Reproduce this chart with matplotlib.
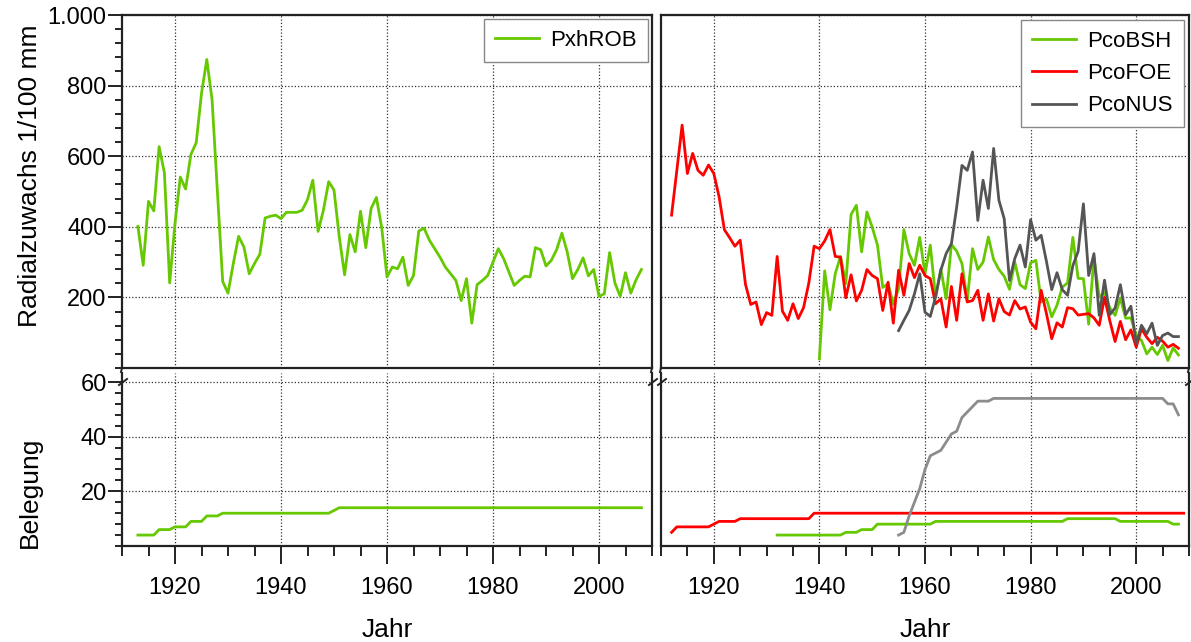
import numpy as np
import matplotlib
matplotlib.use("Agg")
import matplotlib.pyplot as plt
from matplotlib.lines import Line2D
from matplotlib.ticker import MultipleLocator, FixedLocator, FuncFormatter

plt.rcParams['font.family'] = ['Liberation Sans', 'DejaVu Sans']

# ---------------- data ----------------
# Radial growth (1/100 mm), one value per year
rob_start = 1913
rob_growth = [401, 291, 472, 445, 627, 553, 241, 410, 541, 507,
              605, 638, 778, 874, 759, 500, 245, 212, 296, 373,
              343, 267, 296, 322, 425, 430, 433, 423, 441, 441,
              441, 447, 477, 532, 387, 447, 528, 504, 371, 264,
              378, 329, 444, 341, 452, 483, 398, 258, 286, 281,
              314, 234, 262, 388, 396, 362, 338, 314, 286, 267,
              248, 191, 253, 127, 236, 248, 262, 300, 338, 310,
              272, 234, 248, 260, 258, 341, 335, 289, 305, 335,
              382, 329, 253, 279, 312, 261, 279, 203, 210, 327,
              241, 203, 270, 212, 250, 279]

foe_start = 1912
foe_growth = [433, 560, 688, 551, 608, 560, 546, 575, 551, 485,
              392, 369, 345, 362, 237, 180, 187, 123, 157, 149,
              316, 161, 135, 182, 140, 171, 241, 345, 338, 360,
              392, 316, 314, 199, 264, 190, 220, 279, 262, 253,
              163, 243, 127, 277, 206, 296, 256, 291, 262, 253,
              182, 196, 116, 231, 135, 267, 187, 191, 220, 135,
              210, 133, 196, 160, 150, 191, 167, 173, 130, 111,
              220, 154, 83, 128, 116, 171, 168, 150, 152, 154,
              142, 121, 200, 134, 75, 132, 80, 108, 59, 111,
              87, 69, 87, 76, 59, 67, 56]

bsh_start = 1940
bsh_growth = [26, 275, 165, 267, 316, 239, 435, 461, 329, 442,
              399, 348, 228, 239, 180, 225, 392, 324, 291, 370,
              267, 348, 201, 281, 196, 350, 331, 296, 191, 338,
              279, 300, 371, 307, 279, 260, 223, 300, 236, 225,
              298, 305, 187, 196, 145, 178, 229, 241, 370, 254,
              253, 124, 314, 201, 214, 170, 149, 198, 141, 142,
              92, 78, 40, 59, 38, 64, 21, 57, 37]

nus_start = 1955
nus_growth = [106, 135, 163, 210, 267, 158, 146, 201, 277, 324,
              352, 456, 574, 560, 612, 418, 532, 452, 622, 475,
              423, 248, 310, 348, 286, 420, 362, 376, 302, 222,
              270, 222, 206, 290, 330, 465, 262, 324, 149, 249,
              151, 170, 236, 151, 175, 69, 121, 97, 127, 64,
              92, 99, 89, 89]

# Sample depth (number of series per year)
rob_depth_start = 1913
rob_depth = [4, 4, 4, 4, 6, 6, 6, 7, 7, 7, 9, 9, 9, 11, 11, 11,
             12, 12, 12, 12, 12, 12, 12, 12, 12, 12, 12, 12, 12, 12,
             12, 12, 12, 12, 12, 12, 12, 13,
             14, 14, 14, 14, 14, 14, 14, 14, 14, 14, 14, 14, 14, 14,
             14, 14, 14, 14, 14, 14, 14, 14, 14, 14, 14, 14, 14, 14,
             14, 14, 14, 14, 14, 14, 14, 14, 14, 14, 14, 14, 14, 14,
             14, 14, 14, 14, 14, 14, 14, 14, 14, 14, 14, 14, 14, 14,
             14, 14]

foe_depth_start = 1912
foe_depth = [5, 7, 7, 7, 7, 7, 7, 7, 8, 9, 9, 9, 9,
             10, 10, 10, 10, 10, 10, 10, 10, 10, 10, 10, 10, 10, 10,
             12, 12, 12, 12, 12, 12, 12, 12, 12, 12, 12, 12, 12, 12,
             12, 12, 12, 12, 12, 12, 12, 12, 12, 12, 12, 12, 12, 12,
             12, 12, 12, 12, 12, 12, 12, 12, 12, 12, 12, 12, 12, 12,
             12, 12, 12, 12, 12, 12, 12, 12, 12, 12, 12, 12, 12, 12,
             12, 12, 12, 12, 12, 12, 12, 12, 12, 12, 12, 12, 12, 12,
             12]

bsh_depth_start = 1932
bsh_depth = [4, 4, 4, 4, 4, 4, 4, 4, 4, 4, 4, 4, 4,
             5, 5, 5, 6, 6, 6,
             8, 8, 8, 8, 8, 8, 8, 8, 8, 8, 8,
             9, 9, 9, 9, 9, 9, 9, 9, 9, 9, 9, 9, 9, 9, 9, 9, 9, 9, 9, 9,
             9, 9, 9, 9, 9,
             10, 10, 10, 10, 10, 10, 10, 10, 10, 10,
             9, 9, 9, 9, 9, 9, 9, 9, 9, 9,
             8, 8]

nus_depth_start = 1955
nus_depth = [4, 5, 11, 16, 21, 28, 33, 34, 35, 38, 41, 42, 47, 49, 51,
             53, 53, 53,
             54, 54, 54, 54, 54, 54, 54, 54, 54, 54, 54, 54, 54, 54, 54,
             54, 54, 54, 54, 54, 54, 54, 54, 54, 54, 54, 54, 54, 54, 54,
             54, 54, 54,
             52, 52, 48]

year_ticks = [1920, 1940, 1960, 1980, 2000]
growth_ticks = [200, 400, 600, 800, 1000]
depth_ticks = [20, 40, 60]

GREEN = '#66c800'
RED = '#ff0000'
DARK = '#555555'
LIGHT = '#8c8c8c'


def years(start, values):
    return np.arange(start, start + len(values))


# ---------------- layout ----------------
W, H = 1191, 642
fig = plt.figure(figsize=(W / 100, H / 100), dpi=100)


def box(x0, y0, x1, y1):
    return [x0 / W, 1 - y1 / H, (x1 - x0) / W, (y1 - y0) / H]


ax_tl = fig.add_axes(box(122, 15, 652, 368))
ax_tr = fig.add_axes(box(661, 15, 1189, 368))
ax_bl = fig.add_axes(box(122, 373, 652, 546))
ax_br = fig.add_axes(box(661, 373, 1189, 546))

TICK_FS = 17
LABEL_FS = 19
grid_kw = dict(color='#333333', linestyle=(0, (1, 1.6)), linewidth=0.9)


def common(ax):
    ax.set_xlim(1910, 2010)
    ax.xaxis.set_major_locator(FixedLocator(year_ticks))
    ax.xaxis.set_minor_locator(MultipleLocator(5))
    ax.grid(True, which='major', **grid_kw)
    ax.set_axisbelow(True)
    for s in ax.spines.values():
        s.set_linewidth(1.6)
        s.set_color('#222222')
    ax.tick_params(which='both', direction='out', width=1.4, color='#222222',
                   labelsize=TICK_FS)
    ax.tick_params(which='major', length=10)
    ax.tick_params(which='minor', length=5)


for ax in (ax_tl, ax_tr):
    common(ax)
    ax.set_ylim(0, 1000)
    ax.yaxis.set_major_locator(FixedLocator(growth_ticks))
    ax.yaxis.set_minor_locator(MultipleLocator(40))
    ax.tick_params(axis='x', which='both', bottom=False, labelbottom=False)

for ax in (ax_bl, ax_br):
    common(ax)
    ax.set_ylim(0, 63.3)
    ax.yaxis.set_major_locator(FixedLocator(depth_ticks))
    ax.yaxis.set_minor_locator(MultipleLocator(4))
    ax.spines['top'].set_visible(False)
    ax.tick_params(axis='x', which='major', length=13, pad=9)
    ax.tick_params(axis='x', which='minor', length=7)
    ax.set_xlabel('Jahr', fontsize=LABEL_FS, labelpad=14)

ax_tl.yaxis.set_major_formatter(
    FuncFormatter(lambda v, p: f"{int(v):,}".replace(',', '.')))
ax_tl.tick_params(axis='y', pad=1)
ax_bl.tick_params(axis='y', pad=1)

for ax in (ax_tr, ax_br):
    ax.tick_params(axis='y', which='both', left=False, labelleft=False)

# ---------------- lines ----------------
lw = 2.0
ax_tl.plot(years(rob_start, rob_growth), rob_growth, color=GREEN, lw=lw,
           label='PxhROB')
ax_tr.plot(years(bsh_start, bsh_growth), bsh_growth, color=GREEN, lw=lw,
           label='PcoBSH')
ax_tr.plot(years(foe_start, foe_growth), foe_growth, color=RED, lw=lw,
           label='PcoFOE')
ax_tr.plot(years(nus_start, nus_growth), nus_growth, color=DARK, lw=lw,
           label='PcoNUS')

ax_bl.plot(years(rob_depth_start, rob_depth), rob_depth, color=GREEN, lw=2)
ax_br.plot(years(foe_depth_start, foe_depth), foe_depth, color=RED, lw=2)
ax_br.plot(years(bsh_depth_start, bsh_depth), bsh_depth, color=GREEN, lw=2)
ax_br.plot(years(nus_depth_start, nus_depth), nus_depth, color=LIGHT, lw=2)

leg_kw = dict(loc='upper right', fontsize=16, fancybox=False, framealpha=1,
              edgecolor='#888888', borderpad=0.5, labelspacing=0.5,
              handlelength=2.0, handletextpad=0.5, borderaxespad=0)
leg1 = ax_tl.legend(bbox_to_anchor=((648 - 122) / 530, (368 - 19) / 353), **leg_kw)
leg2 = ax_tr.legend(bbox_to_anchor=((1184 - 661) / 528, (368 - 20) / 353), **leg_kw)
for lg in (leg1, leg2):
    lg.get_frame().set_linewidth(1.0)
    for ln in lg.get_lines():
        ln.set_linewidth(2.0)

# ---------------- axis labels ----------------
fig.text(30 / W, 1 - 176 / H, 'Radialzuwachs 1/100 mm', rotation=90,
         ha='center', va='center', fontsize=LABEL_FS)
fig.text(30 / W, 1 - 492 / H, 'Belegung', rotation=90,
         ha='center', va='center', fontsize=LABEL_FS)


# ---------------- axis break marks ----------------
def fig_line(x0, y0, x1, y1, **kw):
    fig.add_artist(Line2D([x0 / W, x1 / W], [1 - y0 / H, 1 - y1 / H],
                          transform=fig.transFigure, color='#222222',
                          linewidth=1.4, **kw))


for x in (122, 652, 661, 1189):
    fig_line(x, 368, x - 1, 372)
    fig_line(x - 3, 385, x + 5, 379)

fig.savefig('out.png', dpi=100)
